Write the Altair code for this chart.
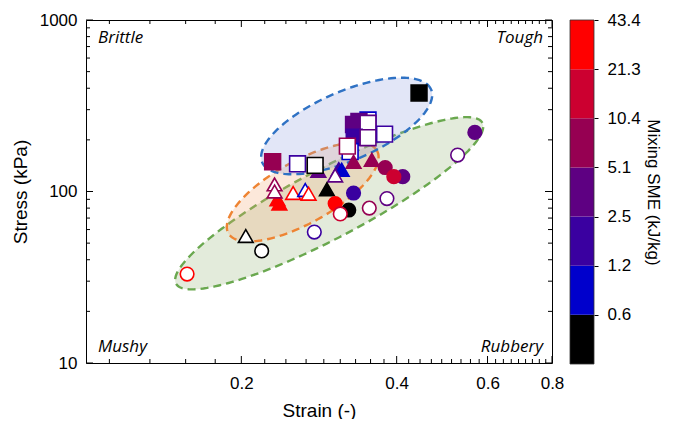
import json
import numpy as np
import pandas as pd
import altair as alt

W, H = 466, 343

# ---------------- data ----------------
pt_shape = ["square", "square", "square", "square", "square", "square", "square", "square",
            "square", "square", "square", "triangle", "square", "triangle", "triangle",
            "triangle", "triangle", "triangle", "circle", "circle", "circle", "triangle",
            "triangle", "triangle", "triangle", "triangle", "triangle", "triangle", "triangle",
            "circle", "circle", "circle", "circle", "circle", "circle", "circle", "circle",
            "triangle", "circle", "circle", "circle", "square"]
pt_strain = [0.352, 0.338, 0.330, 0.352, 0.331, 0.352, 0.379, 0.325,
             0.321, 0.230, 0.257, 0.282, 0.278, 0.330, 0.358,
             0.309, 0.313, 0.304, 0.380, 0.411, 0.395, 0.293,
             0.235, 0.237, 0.232, 0.232, 0.252, 0.266, 0.270,
             0.330, 0.323, 0.304, 0.311, 0.354, 0.383, 0.277, 0.219,
             0.204, 0.157, 0.567, 0.525, 0.442]
pt_stress = [261, 256, 246, 250, 207, 206, 216, 171,
             184, 149, 145, 132, 142, 149, 153,
             135, 134, 124, 138, 122, 122, 103,
             90, 85, 110, 100, 98, 102, 97,
             98, 78, 85, 74, 80, 91, 58, 45,
             55, 33, 221, 163, 375]
pt_sme = [0.9, 3.7, 3.7, 3.7, 1.8, 3.7, 1.8, 0.9,
          7.5, 7.5, 1.8, 3.7, 0.4, 7.5, 7.5,
          1.8, 0.9, 3.7, 7.5, 3.7, 15, 0.4,
          30, 30, 7.5, 7.5, 30, 0.9, 30,
          1.8, 0.4, 30, 15, 7.5, 3.7, 1.8, 0.4,
          0.4, 30, 3.7, 3.7, 0.4]
pt_filled = [0, 1, 1, 0, 1, 0, 0, 0,
             0, 1, 0, 1, 0, 1, 1,
             1, 1, 0, 1, 1, 1, 1,
             1, 1, 0, 0, 0, 0, 0,
             1, 1, 1, 0, 0, 0, 0, 0,
             0, 0, 1, 0, 1]

# colour bar (Mixing SME, kJ/kg)
sme_thresholds = [0.6, 1.2, 2.5, 5.1, 10.4, 21.3]
sme_labels = ["0.6", "1.2", "2.5", "5.1", "10.4", "21.3", "43.4"]
sme_colors = ["#000000", "#0000CC", "#3A00A0", "#5E0082", "#960052", "#CC0030", "#FF0000"]

# regions (ellipses in log-log space): centre, major and minor semi-axis (in decades)
ell_c_strain = [0.296, 0.263, 0.320]
ell_c_stress = [85.4, 99.3, 241]
ell_major = [(0.2969, 0.4689), (0.1441, 0.2403), (0.1636, 0.2130)]
ell_minor = [(-0.03135, 0.1797), (-0.02931, 0.1591), (-0.02647, 0.1841)]
ell_stroke = ["#6AA84F", "#EE8433", "#2F72C4"]
ell_fill = ["#8FB070", "#F5A46A", "#8A9BE0"]

# corner annotations
corner_text = ["Brittle", "Tough", "Mushy", "Rubbery"]
corner_strain = [0.1, 0.8, 0.1, 0.8]
corner_stress = [1000, 1000, 10, 10]

# axis ticks
x_major = [0.2, 0.4, 0.6, 0.8]
x_minor = [0.111, 0.133, 0.156, 0.178, 0.222, 0.244, 0.267, 0.289, 0.311, 0.333,
           0.356, 0.378, 0.422, 0.444, 0.467, 0.489, 0.511, 0.533, 0.556, 0.578,
           0.622, 0.644, 0.667, 0.689, 0.711, 0.733, 0.756, 0.778]
y_major = [10, 100, 1000]
y_minor = [20, 30, 40, 50, 60, 70, 80, 90, 200, 300, 400, 500, 600, 700, 800, 900]

FONT = "Liberation Sans"

xs = alt.Scale(type="log", domain=[0.1, 0.8], nice=False)
ys = alt.Scale(type="log", domain=[10, 1000], nice=False)
cs = alt.Scale(type="threshold", domain=sme_thresholds, range=sme_colors)

ax_x = alt.Axis(
    title="Strain (-)", values=x_major, format=".1f", ticks=False, domain=False,
    grid=False, labelFontSize=17, labelFont=FONT, labelColor="black", labelPadding=12,
    labelFlush=False, labelOverlap=False, titleFontSize=19, titleFont=FONT,
    titleFontWeight="normal", titleColor="black", titlePadding=10)
ax_y = alt.Axis(
    title="Stress (kPa)", values=y_major, format="d", ticks=False, domain=False,
    grid=False, labelFontSize=17, labelFont=FONT, labelColor="black", labelPadding=9,
    labelFlush=False, labelOverlap=False, titleFontSize=19, titleFont=FONT,
    titleFontWeight="normal", titleColor="black", titlePadding=9)


def X(field="strain:Q"):
    return alt.X(field, scale=xs, axis=ax_x)


def Y(field="stress:Q"):
    return alt.Y(field, scale=ys, axis=ax_y)


# ---------------- ellipses ----------------
t = np.linspace(0, 2 * np.pi, 161)
ell_layers = []
for k in range(3):
    lx = np.log10(ell_c_strain[k]) + ell_major[k][0] * np.cos(t) + ell_minor[k][0] * np.sin(t)
    ly = np.log10(ell_c_stress[k]) + ell_major[k][1] * np.cos(t) + ell_minor[k][1] * np.sin(t)
    df = pd.DataFrame({"strain": 10 ** lx, "stress": 10 ** ly, "i": np.arange(len(t))})
    ell_layers.append(
        alt.Chart(df).mark_line(
            fill=ell_fill[k], fillOpacity=0.25, stroke=ell_stroke[k],
            strokeWidth=2.4, strokeDash=[8, 5], interpolate="linear"
        ).encode(x=X(), y=Y(), order="i:Q")
    )

# ---------------- points ----------------
pts = pd.DataFrame({"shape": pt_shape, "strain": pt_strain, "stress": pt_stress,
                    "sme": pt_sme, "filled": pt_filled})
points = alt.Chart(pts).mark_point(opacity=1, strokeWidth=1.6).encode(
    x=X(), y=Y(),
    shape=alt.Shape("shape:N", scale=alt.Scale(domain=["circle", "triangle", "square"],
                                               range=["circle", "triangle-up", "square"]),
                    legend=None),
    size=alt.Size("shape:N", scale=alt.Scale(domain=["circle", "triangle", "square"],
                                             range=[185, 250, 165]), legend=None),
    stroke=alt.Stroke("sme:Q", scale=cs, legend=None),
    fill=alt.condition("datum.filled == 1", alt.Fill("sme:Q", scale=cs, legend=None),
                       alt.value("white")),
)


# ---------------- ticks (inside, all four sides) ----------------
def xtick(vals, length, top):
    df = pd.DataFrame({"strain": vals})
    y0, y1 = (0, length) if top else (H, H - length)
    return alt.Chart(df).mark_rule(color="black", strokeWidth=1).encode(
        x=X(), y=alt.value(y0), y2=alt.value(y1))


def ytick(vals, length, right):
    df = pd.DataFrame({"stress": vals})
    x0, x1 = (W, W - length) if right else (0, length)
    return alt.Chart(df).mark_rule(color="black", strokeWidth=1).encode(
        y=Y(), x=alt.value(x0), x2=alt.value(x1))


tick_layers = [xtick(x_major, 7, False), xtick(x_minor, 4, False),
               xtick(x_major, 7, True), xtick(x_minor, 4, True),
               ytick(y_major, 7, False), ytick(y_minor, 4, False),
               ytick(y_major, 7, True), ytick(y_minor, 4, True)]

# ---------------- corner labels ----------------
text_layers = []
for k in range(4):
    left = corner_strain[k] < 0.3
    top = corner_stress[k] > 100
    df = pd.DataFrame({"strain": [corner_strain[k]], "stress": [corner_stress[k]],
                       "label": [corner_text[k]]})
    text_layers.append(
        alt.Chart(df).mark_text(
            font="Open Sans", fontStyle="italic", fontSize=17, color="black",
            align="left" if left else "right", baseline="alphabetic",
            dx=12 if left else -9, dy=23 if top else -11,
        ).encode(x=X(), y=Y(), text="label:N")
    )

main = alt.layer(*ell_layers, *tick_layers, points, *text_layers)

# ---------------- colour bar ----------------
bar = pd.DataFrame({"lo": list(range(7)), "hi": list(range(1, 8)), "col": sme_colors})
cb_scale = alt.Scale(domain=[0, 7], range=[H + 1, 0], nice=False, zero=False)
cb_axis = alt.Axis(
    orient="right", offset=42, values=list(range(1, 8)),
    labelExpr=json.dumps(sme_labels) + "[datum.value - 1]",
    title="Mixing SME (kJ/kg)", domain=False, grid=False, ticks=True, tickSize=4,
    tickColor="black", labelFontSize=17, labelFont=FONT, labelColor="black",
    labelPadding=9, labelFlush=False, labelOverlap=False, titleFontSize=17,
    titleFont=FONT, titleFontWeight="normal", titleColor="black", titlePadding=3)
colorbar = alt.Chart(bar).mark_rect().encode(
    x=alt.value(484), x2=alt.value(508),
    y=alt.Y("lo:Q", scale=cb_scale, axis=cb_axis),
    y2="hi:Q",
    fill=alt.Fill("col:N", scale=None),
)
cb_frame = alt.Chart(pd.DataFrame({"lo": [0], "hi": [7]})).mark_rect(
    fillOpacity=0, stroke="#333333", strokeWidth=0.8).encode(
    x=alt.value(484), x2=alt.value(508),
    y=alt.Y("lo:Q", scale=cb_scale, axis=cb_axis), y2="hi:Q")

chart = alt.layer(main, alt.layer(colorbar, cb_frame)).resolve_scale(y="independent").properties(
    width=W, height=H,
    autosize=alt.AutoSizeParams(type="none"),
    padding={"left": 78, "top": 12, "right": 113, "bottom": 56},
).configure_view(stroke="black", strokeWidth=1)

chart.save("out.html", embed_options={"renderer": "svg", "actions": False})
